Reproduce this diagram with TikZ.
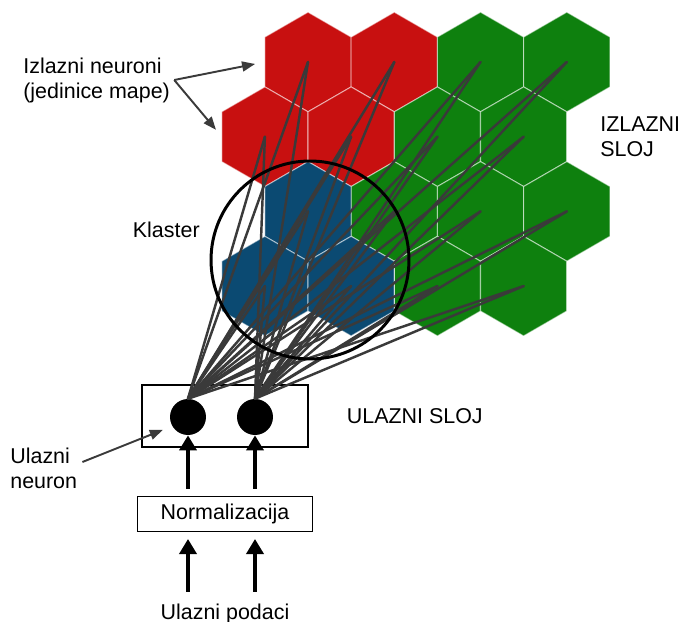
\documentclass[tikz,border=0pt]{standalone}
\usepackage{fontspec}
\setmainfont{Liberation Sans}
\usepackage{tikz}
\usetikzlibrary{positioning,shapes.geometric,arrows.meta}

\definecolor{mapred}{HTML}{C81010}
\definecolor{mapgreen}{HTML}{0E800E}
\definecolor{mapblue}{HTML}{0B4A72}
\definecolor{wiregray}{HTML}{3A3A3A}

\begin{document}
\begin{tikzpicture}[x=0.02cm, y=-0.02cm,
  every node/.style={font=\fontsize{12.2}{14.2}\selectfont},
  hexcell/.style={regular polygon, regular polygon sides=6, regular polygon rotate=30,
    minimum size=1.992cm, inner sep=0pt, outer sep=0pt,
    draw=white, draw opacity=0.5, line width=0.6pt},
  wire/.style={draw=wiregray, line width=1.4pt, line cap=round},
  pointer/.style={draw=wiregray, line width=1.1pt, -{Triangle[length=0.26cm,width=0.2cm]}},
  bigarrow/.style={line width=2pt, -{Triangle[length=0.3cm,width=0.34cm]}},
  neuron/.style={circle, fill=black, minimum size=0.72cm, inner sep=0pt}]

            \useasboundingbox (0,0) rectangle (683,622);

            % Izlazni sloj: red cells
            \node[hexcell, fill=mapred] (h11) at (308,62) {};
            \node[hexcell, fill=mapred] (h12) at (394.3,62) {};
            \node[hexcell, fill=mapred] (h21) at (264.9,136.7) {};
            \node[hexcell, fill=mapred] (h22) at (351.1,136.7) {};

            % Izlazni sloj: green cells
            \node[hexcell, fill=mapgreen] (h13) at (480.5,62) {};
            \node[hexcell, fill=mapgreen] (h14) at (566.8,62) {};
            \node[hexcell, fill=mapgreen] (h23) at (437.4,136.7) {};
            \node[hexcell, fill=mapgreen] (h24) at (523.6,136.7) {};
            \node[hexcell, fill=mapgreen] (h32) at (394.3,211.4) {};
            \node[hexcell, fill=mapgreen] (h33) at (480.5,211.4) {};
            \node[hexcell, fill=mapgreen] (h34) at (566.8,211.4) {};
            \node[hexcell, fill=mapgreen] (h43) at (437.4,286.1) {};
            \node[hexcell, fill=mapgreen] (h44) at (523.6,286.1) {};

            % Izlazni sloj: blue cells (klaster)
            \node[hexcell, fill=mapblue] (h31) at (308,211.4) {};
            \node[hexcell, fill=mapblue] (h41) at (264.9,286.1) {};
            \node[hexcell, fill=mapblue] (h42) at (351.1,286.1) {};

            % Ulazni sloj
            \node[draw, line width=0.7pt, minimum width=3.32cm, minimum height=1.24cm] (inlayer) at (225,416) {};
            \node[neuron] (in1) at (188,417) {};
            \node[neuron] (in2) at (255,417) {};
            \node[inner sep=0pt, right=0.76cm of inlayer] (inlabel) {ULAZNI SLOJ};

            % Weights from both inputs to every cell
            \foreach \inp in {in1,in2}
              \foreach \cell in {h11,h12,h13,h14,h21,h22,h23,h24,h31,h32,h33,h34,h41,h42,h43,h44}
                \draw[wire] (\inp.north) -- (\cell.center);

            % Klaster
            \node[circle, draw, line width=1.7pt, minimum size=3.96cm, inner sep=0pt] (cluster) at (310,260) {};
            \node[anchor=east, inner sep=0pt] (clusterlbl) at (200,230) {Klaster};

            % Normalizacija and input data
            \node[draw, line width=0.8pt, minimum width=3.5cm, minimum height=0.7cm, below=0.96cm of inlayer] (norm) {Normalizacija};
            \node[inner sep=0pt, below=1.44cm of norm] (data) {Ulazni podaci};

            \draw[bigarrow, shorten <=0.24cm, shorten >=0.14cm] (data.north -| in1) -- (norm.south -| in1);
            \draw[bigarrow, shorten <=0.24cm, shorten >=0.14cm] (data.north -| in2) -- (norm.south -| in2);
            \draw[bigarrow, shorten <=0.14cm] (norm.north -| in1) -- (in1.south);
            \draw[bigarrow, shorten <=0.14cm] (norm.north -| in2) -- (in2.south);

            % Labels with pointers
            \node[align=left, anchor=west, inner sep=0pt] (outlbl) at (23,80) {Izlazni neuroni\\(jedinice mape)};
            \draw[pointer, shorten >=0.2cm] ([xshift=0.08cm]outlbl.east) -- (h11.west);
            \draw[pointer, shorten >=0.18cm] ([xshift=0.08cm]outlbl.east) -- (h21.west);

            \node[align=left, anchor=west, inner sep=0pt] (neuronlbl) at (10,468) {Ulazni\\neuron};
            \draw[pointer, shorten >=0.2cm] ([xshift=0.1cm,yshift=0.12cm]neuronlbl.east) -- (in1.210);

            \node[align=left, anchor=west, inner sep=0pt] (outlayer) at (600,137) {IZLAZNI\\SLOJ};
        \end{tikzpicture}
\end{document}
